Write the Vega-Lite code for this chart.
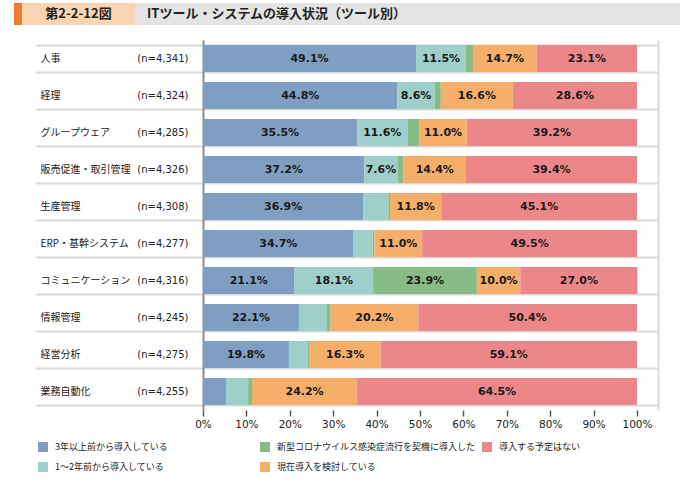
{
  "$schema": "https://vega.github.io/schema/vega-lite/v6.json",
  "background": "white",
  "padding": {"left": 14, "top": 3, "right": 5, "bottom": 5},
  "config": {"view": {"stroke": null}, "font": "Noto Sans CJK JP"},
  "spacing": 10,
  "datasets": {
    "header": [{"fig": "第2-2-12図", "title": "ITツール・システムの導入状況（ツール別）"}],
    "bars": [
      {"cat": "人事|(n=4,341)", "k": 1, "s": "3年以上前から導入している", "v": 49.1},
      {"cat": "人事|(n=4,341)", "k": 2, "s": "1～2年前から導入している", "v": 11.5},
      {"cat": "人事|(n=4,341)", "k": 3, "s": "新型コロナウイルス感染症流行を契機に導入した", "v": 1.6},
      {"cat": "人事|(n=4,341)", "k": 4, "s": "現在導入を検討している", "v": 14.7},
      {"cat": "人事|(n=4,341)", "k": 5, "s": "導入する予定はない", "v": 23.1},
      {"cat": "経理|(n=4,324)", "k": 1, "s": "3年以上前から導入している", "v": 44.8},
      {"cat": "経理|(n=4,324)", "k": 2, "s": "1～2年前から導入している", "v": 8.6},
      {"cat": "経理|(n=4,324)", "k": 3, "s": "新型コロナウイルス感染症流行を契機に導入した", "v": 1.4},
      {"cat": "経理|(n=4,324)", "k": 4, "s": "現在導入を検討している", "v": 16.6},
      {"cat": "経理|(n=4,324)", "k": 5, "s": "導入する予定はない", "v": 28.6},
      {"cat": "グループウェア|(n=4,285)", "k": 1, "s": "3年以上前から導入している", "v": 35.5},
      {"cat": "グループウェア|(n=4,285)", "k": 2, "s": "1～2年前から導入している", "v": 11.6},
      {"cat": "グループウェア|(n=4,285)", "k": 3, "s": "新型コロナウイルス感染症流行を契機に導入した", "v": 2.7},
      {"cat": "グループウェア|(n=4,285)", "k": 4, "s": "現在導入を検討している", "v": 11.0},
      {"cat": "グループウェア|(n=4,285)", "k": 5, "s": "導入する予定はない", "v": 39.2},
      {"cat": "販売促進・取引管理|(n=4,326)", "k": 1, "s": "3年以上前から導入している", "v": 37.2},
      {"cat": "販売促進・取引管理|(n=4,326)", "k": 2, "s": "1～2年前から導入している", "v": 7.6},
      {"cat": "販売促進・取引管理|(n=4,326)", "k": 3, "s": "新型コロナウイルス感染症流行を契機に導入した", "v": 1.4},
      {"cat": "販売促進・取引管理|(n=4,326)", "k": 4, "s": "現在導入を検討している", "v": 14.4},
      {"cat": "販売促進・取引管理|(n=4,326)", "k": 5, "s": "導入する予定はない", "v": 39.4},
      {"cat": "生産管理|(n=4,308)", "k": 1, "s": "3年以上前から導入している", "v": 36.9},
      {"cat": "生産管理|(n=4,308)", "k": 2, "s": "1～2年前から導入している", "v": 5.8},
      {"cat": "生産管理|(n=4,308)", "k": 3, "s": "新型コロナウイルス感染症流行を契機に導入した", "v": 0.4},
      {"cat": "生産管理|(n=4,308)", "k": 4, "s": "現在導入を検討している", "v": 11.8},
      {"cat": "生産管理|(n=4,308)", "k": 5, "s": "導入する予定はない", "v": 45.1},
      {"cat": "ERP・基幹システム|(n=4,277)", "k": 1, "s": "3年以上前から導入している", "v": 34.7},
      {"cat": "ERP・基幹システム|(n=4,277)", "k": 2, "s": "1～2年前から導入している", "v": 4.4},
      {"cat": "ERP・基幹システム|(n=4,277)", "k": 3, "s": "新型コロナウイルス感染症流行を契機に導入した", "v": 0.4},
      {"cat": "ERP・基幹システム|(n=4,277)", "k": 4, "s": "現在導入を検討している", "v": 11.0},
      {"cat": "ERP・基幹システム|(n=4,277)", "k": 5, "s": "導入する予定はない", "v": 49.5},
      {"cat": "コミュニケーション|(n=4,316)", "k": 1, "s": "3年以上前から導入している", "v": 21.1},
      {"cat": "コミュニケーション|(n=4,316)", "k": 2, "s": "1～2年前から導入している", "v": 18.1},
      {"cat": "コミュニケーション|(n=4,316)", "k": 3, "s": "新型コロナウイルス感染症流行を契機に導入した", "v": 23.9},
      {"cat": "コミュニケーション|(n=4,316)", "k": 4, "s": "現在導入を検討している", "v": 10.0},
      {"cat": "コミュニケーション|(n=4,316)", "k": 5, "s": "導入する予定はない", "v": 27.0},
      {"cat": "情報管理|(n=4,245)", "k": 1, "s": "3年以上前から導入している", "v": 22.1},
      {"cat": "情報管理|(n=4,245)", "k": 2, "s": "1～2年前から導入している", "v": 6.3},
      {"cat": "情報管理|(n=4,245)", "k": 3, "s": "新型コロナウイルス感染症流行を契機に導入した", "v": 1.0},
      {"cat": "情報管理|(n=4,245)", "k": 4, "s": "現在導入を検討している", "v": 20.2},
      {"cat": "情報管理|(n=4,245)", "k": 5, "s": "導入する予定はない", "v": 50.4},
      {"cat": "経営分析|(n=4,275)", "k": 1, "s": "3年以上前から導入している", "v": 19.8},
      {"cat": "経営分析|(n=4,275)", "k": 2, "s": "1～2年前から導入している", "v": 4.4},
      {"cat": "経営分析|(n=4,275)", "k": 3, "s": "新型コロナウイルス感染症流行を契機に導入した", "v": 0.4},
      {"cat": "経営分析|(n=4,275)", "k": 4, "s": "現在導入を検討している", "v": 16.3},
      {"cat": "経営分析|(n=4,275)", "k": 5, "s": "導入する予定はない", "v": 59.1},
      {"cat": "業務自動化|(n=4,255)", "k": 1, "s": "3年以上前から導入している", "v": 5.3},
      {"cat": "業務自動化|(n=4,255)", "k": 2, "s": "1～2年前から導入している", "v": 5.1},
      {"cat": "業務自動化|(n=4,255)", "k": 3, "s": "新型コロナウイルス感染症流行を契機に導入した", "v": 0.9},
      {"cat": "業務自動化|(n=4,255)", "k": 4, "s": "現在導入を検討している", "v": 24.2},
      {"cat": "業務自動化|(n=4,255)", "k": 5, "s": "導入する予定はない", "v": 64.5}
    ]
  },
  "vconcat": [
    {
      "spacing": 0,
      "hconcat": [
        {"width": 8, "height": 22, "view": {"fill": "#ed7d31", "stroke": null}, "data": {"name": "header"}, "mark": {"type": "text", "text": ""}, "encoding": {}},
        {"width": 113, "height": 22, "view": {"fill": "#fbd4b4", "stroke": null}, "data": {"name": "header"}, "mark": {"type": "text", "fontSize": 13, "fontWeight": "bold", "color": "#222", "font": "Noto Sans CJK JP"}, "encoding": {"text": {"field": "fig"}}},
        {"width": 545, "height": 22, "view": {"fill": "#e4e4e4", "stroke": null}, "data": {"name": "header"}, "mark": {"type": "text", "align": "left", "dx": 12, "fontSize": 13, "fontWeight": "bold", "color": "#222", "font": "Noto Sans CJK JP"}, "encoding": {"text": {"field": "title"}, "x": {"datum": 0, "type": "quantitative", "scale": {"domain": [0, 1]}, "axis": null}}}
      ]
    },
    {
      "width": 644,
      "height": 370,
      "view": {"stroke": null},
      "data": {"name": "bars"},
      "transform": [
        {"stack": "v", "groupby": ["cat"], "sort": [{"field": "k", "order": "ascending"}], "as": ["v0", "v1"]},
        {"calculate": "(datum.v0 + datum.v1) / 2", "as": "mid"},
        {"calculate": "format(datum.v, '.1f') + '%'", "as": "label"}
      ],
      "layer": [
        {
          "mark": {"type": "bar"},
          "encoding": {
            "y": {"field": "cat", "type": "nominal", "sort": null, "scale": {"paddingInner": 0.27, "paddingOuter": 0.135},
              "axis": {"orient": "left", "offset": -21, "title": null, "labelExpr": "datum.value ? split(datum.value, '|')[0] : ''", "labelAlign": "left", "labelPadding": 618, "ticks": true, "tickSize": -623, "tickBand": "extent", "tickColor": "#d9d9d9", "tickWidth": 2, "domain": false, "grid": false, "labelFont": "Noto Sans CJK JP", "labelFontSize": 10, "labelColor": "#222", "labelLimit": 200}},
            "x": {"field": "v0", "type": "quantitative", "scale": {"domain": [-43.55, 104.84], "nice": false, "zero": false},
              "axis": {"title": null, "values": [0, 10, 20, 30, 40, 50, 60, 70, 80, 90, 100], "labelExpr": "datum.value + '%'", "grid": false, "domain": false, "tickSize": 6, "tickColor": "#595959", "tickWidth": 1.5, "labelFont": "DejaVu Sans", "labelFontSize": 10.5, "labelColor": "#222", "labelPadding": 3, "labelFlush": false}},
            "x2": {"field": "v1"},
            "color": {"field": "s", "type": "nominal",
              "scale": {"domain": ["3年以上前から導入している", "1～2年前から導入している", "新型コロナウイルス感染症流行を契機に導入した", "現在導入を検討している", "導入する予定はない"], "range": ["#7f9fc2", "#9fcfca", "#87bd84", "#f6af6b", "#ec8789"]},
              "legend": {"orient": "none", "legendX": 24, "legendY": 439, "columns": 3, "title": null, "symbolType": "square", "symbolSize": 100, "symbolStrokeWidth": 0, "labelFont": "Noto Sans CJK JP", "labelFontSize": 9, "labelColor": "#222", "gridAlign": "all", "columnPadding": 6, "rowPadding": 10, "labelOffset": 7, "labelLimit": 300}}
          }
        },
        {
          "transform": [{"filter": "datum.v >= 7"}],
          "mark": {"type": "text", "font": "DejaVu Sans", "fontWeight": "bold", "fontSize": 11, "color": "#1a1a1a", "baseline": "middle"},
          "encoding": {
            "y": {"field": "cat", "type": "nominal", "sort": null,
              "axis": {"orient": "left", "offset": -189, "title": null, "labelExpr": "datum.value ? split(datum.value, '|')[1] : ''", "labelAlign": "right", "labelPadding": 15, "ticks": false, "tickSize": 0, "domain": true, "domainColor": "#8c8c8c", "domainWidth": 2, "grid": false, "labelFont": "DejaVu Sans", "labelFontSize": 10, "labelColor": "#222"}},
            "x": {"field": "mid", "type": "quantitative", "title": null},
            "text": {"field": "label"}
          }
        },
        {
          "mark": {"type": "text", "text": ""},
          "encoding": {
            "y": {"field": "cat", "type": "nominal", "sort": null,
              "axis": {"orient": "right", "title": null, "labels": false, "ticks": false, "domain": true, "domainColor": "#d9d9d9", "domainWidth": 2, "grid": false}}
          }
        }
      ],
      "resolve": {"axis": {"y": "independent"}}
    }
  ]
}
